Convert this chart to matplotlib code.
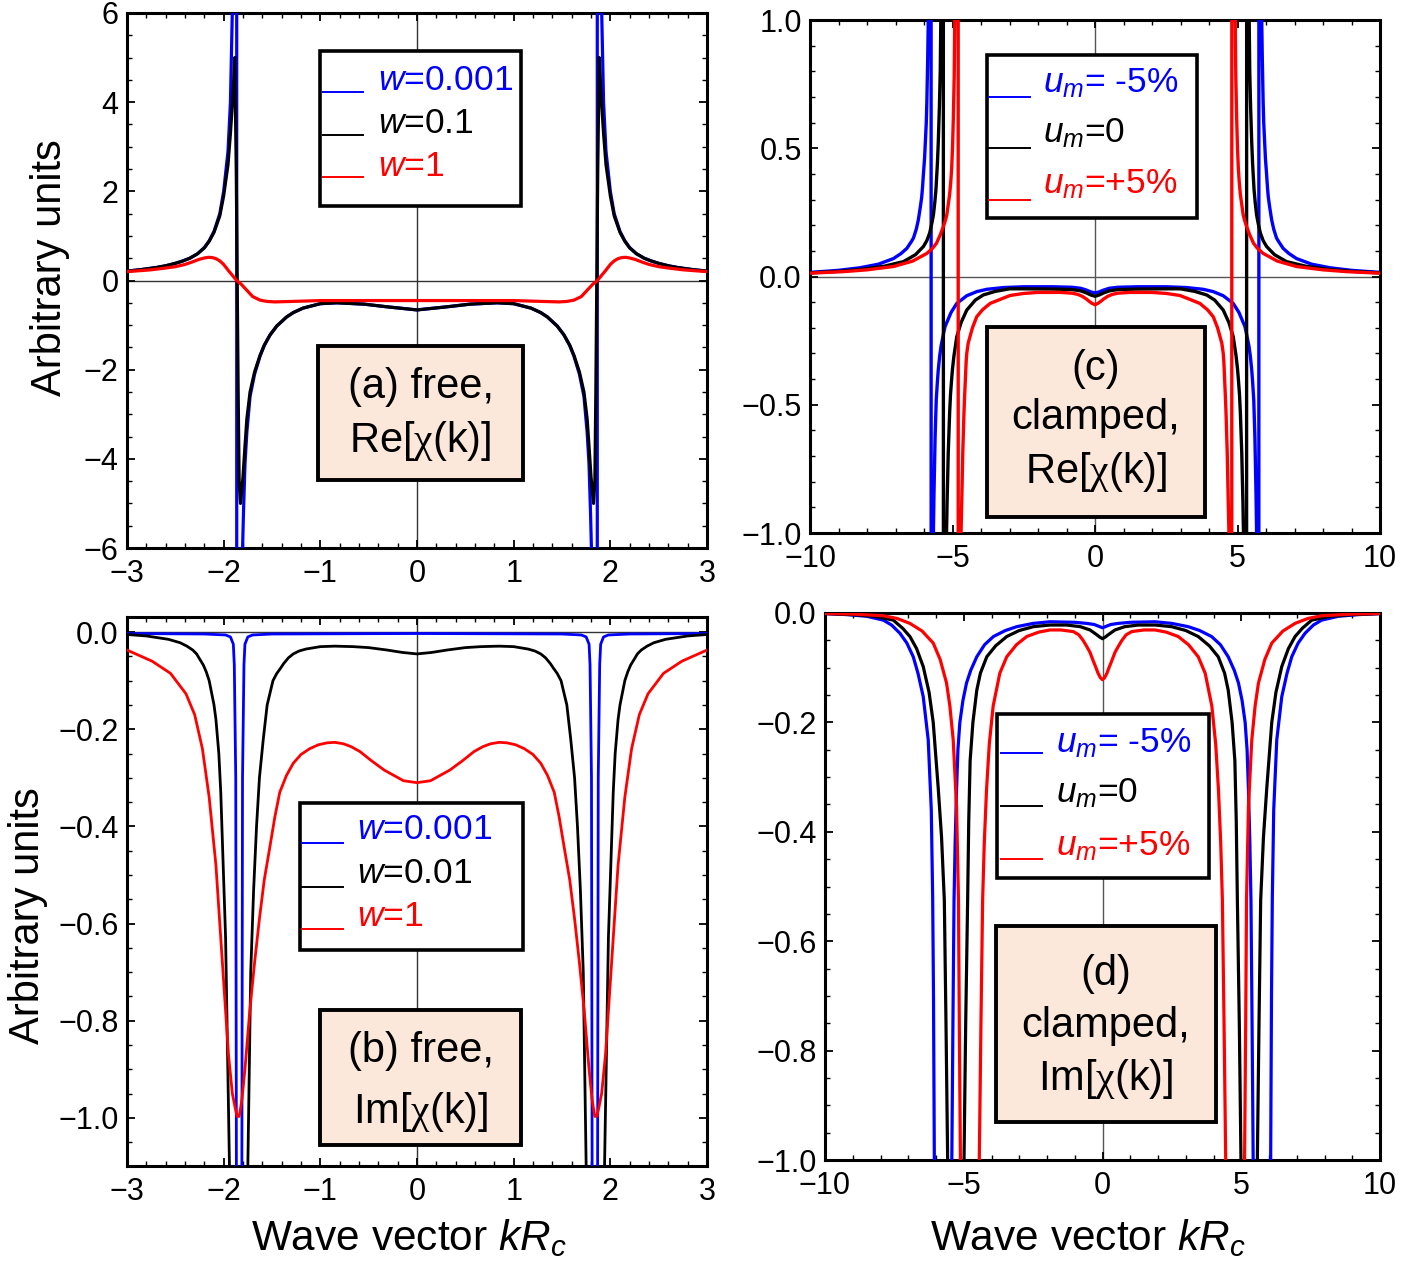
import numpy as np
import matplotlib
matplotlib.use('Agg')
import matplotlib.pyplot as plt
from matplotlib.patches import Rectangle
from matplotlib.lines import Line2D
from matplotlib.ticker import MultipleLocator

plt.rcParams['font.family'] = ['Liberation Sans', 'DejaVu Sans']
plt.rcParams['mathtext.fontset'] = 'custom'
plt.rcParams['mathtext.rm'] = 'Liberation Sans'
plt.rcParams['mathtext.it'] = 'Liberation Sans:italic'
plt.rcParams['mathtext.bf'] = 'Liberation Sans:bold'
plt.rcParams['mathtext.sf'] = 'Liberation Serif'  # used only for the chi glyph

# all curves are even in k, so only the k >= 0 half is listed and mirrored below

# (a) free, Re[chi(k)]
a_k_blue = [0, 0.31, 0.55, 0.83, 1.0, 1.18, 1.28, 1.35, 1.45, 1.52, 1.58, 1.624, 1.68, 1.727,
            1.76, 1.779, 1.795, 1.81, 1.83, 1.85, 1.864, 1.866, 1.88, 1.895, 1.906, 1.93,
            1.955, 2.0, 2.04, 2.1, 2.15, 2.2, 2.27, 2.35, 2.42, 2.5, 2.6, 2.7, 2.85, 3.0]
a_re_blue = [-0.66, -0.59, -0.53, -0.50, -0.52, -0.62, -0.72, -0.82, -1.02, -1.22, -1.46, -1.70,
             -2.1, -2.6, -3.4, -4.1, -5.2, -6.5, -10, -25, -200, 200, 25, 10, 6.5, 4.0,
             2.9, 2.0, 1.5, 1.1, 0.89, 0.74, 0.6, 0.5, 0.44, 0.385, 0.33, 0.29, 0.245, 0.21]
a_k_black = [0, 0.31, 0.55, 0.83, 1.0, 1.18, 1.28, 1.35, 1.45, 1.52, 1.58, 1.624, 1.68, 1.727,
             1.76, 1.779, 1.80, 1.826, 1.84, 1.85, 1.86, 1.87, 1.885, 1.903, 1.93, 1.955,
             2.0, 2.04, 2.1, 2.15, 2.2, 2.27, 2.35, 2.42, 2.5, 2.6, 2.7, 2.85, 3.0]
a_re_black = [-0.66, -0.59, -0.53, -0.50, -0.52, -0.62, -0.72, -0.82, -1.02, -1.22, -1.45, -1.68,
              -2.05, -2.5, -3.1, -3.7, -4.4, -5.0, -4.5, -2.5, 0.0, 2.5, 5.0, 4.2, 3.3, 2.6,
              1.9, 1.45, 1.08, 0.88, 0.73, 0.6, 0.5, 0.44, 0.385, 0.33, 0.29, 0.245, 0.21]
a_k_red = [0, 0.5, 1.0, 1.3, 1.47, 1.55, 1.624, 1.7, 1.76, 1.82, 1.866, 1.90, 1.95, 2.0, 2.04,
           2.08, 2.12, 2.16, 2.2, 2.26, 2.32, 2.4, 2.5, 2.6, 2.75, 2.9, 3.0]
a_re_red = [-0.45, -0.45, -0.45, -0.47, -0.48, -0.47, -0.44, -0.36, -0.22, -0.08, 0.0, 0.09,
            0.22, 0.36, 0.44, 0.49, 0.515, 0.52, 0.505, 0.47, 0.42, 0.36, 0.31, 0.28, 0.24,
            0.215, 0.2]

# (b) free, Im[chi(k)]
b_k_blue = [0, 1.5, 1.7, 1.75, 1.78, 1.79, 1.805, 1.815, 1.865, 1.875, 1.89, 1.9, 1.93,
            1.98, 2.2, 3.0]
b_im_blue = [-0.003, -0.004, -0.006, -0.01, -0.025, -0.067, -0.3, -1.5, -1.5, -0.3, -0.067,
             -0.025, -0.01, -0.006, -0.004, -0.003]
b_k_black = [0, 0.15, 0.31, 0.5, 0.66, 0.85, 1.0, 1.15, 1.22, 1.28, 1.33, 1.38, 1.41, 1.45,
             1.49, 1.55, 1.59, 1.63, 1.66, 1.69, 1.72, 1.75, 1.845, 1.94, 1.98, 2.03, 2.05,
             2.08, 2.1, 2.13, 2.15, 2.18, 2.21, 2.25, 2.28, 2.32, 2.38, 2.45, 2.57, 2.8, 3.0]
b_im_black = [-0.045, -0.042, -0.037, -0.032, -0.030, -0.029, -0.030, -0.035, -0.039, -0.045,
              -0.053, -0.065, -0.074, -0.085, -0.10, -0.15, -0.22, -0.30, -0.40, -0.53, -0.70,
              -1.1, -3.0, -1.1, -0.63, -0.33, -0.25, -0.18, -0.15, -0.12, -0.10, -0.082,
              -0.068, -0.055, -0.045, -0.037, -0.029, -0.022, -0.015, -0.008, -0.005]
b_k_red = [0, 0.14, 0.34, 0.47, 0.59, 0.68, 0.76, 0.85, 0.93, 1.02, 1.11, 1.2, 1.28, 1.35,
           1.42, 1.47, 1.52, 1.58, 1.63, 1.68, 1.73, 1.78, 1.795, 1.81, 1.825, 1.84, 1.86,
           1.88, 1.895, 1.91, 1.95, 1.98, 2.03, 2.08, 2.15, 2.22, 2.3, 2.39, 2.55, 2.74, 3.0]
b_im_red = [-0.31, -0.306, -0.284, -0.265, -0.246, -0.236, -0.23, -0.227, -0.228, -0.232,
            -0.24, -0.252, -0.27, -0.295, -0.33, -0.38, -0.44, -0.51, -0.59, -0.68, -0.78,
            -0.9, -0.93, -0.96, -0.98, -0.997, -0.997, -0.98, -0.965, -0.95, -0.87, -0.78,
            -0.63, -0.48, -0.34, -0.24, -0.17, -0.127, -0.085, -0.06, -0.037]

# (c) clamped, Re[chi(k)]
c_k_blue = [0, 0.15, 0.3, 0.5, 0.8, 1.5, 2.5, 3.2, 3.8, 4.15, 4.5, 4.85, 5.05, 5.26, 5.3,
            5.4, 5.45, 5.5, 5.53, 5.57, 5.61, 5.65, 5.67, 5.71, 5.745, 5.755, 5.79, 5.83,
            5.85, 5.87, 5.9, 5.92, 5.95, 5.98, 6.02, 6.05, 6.08, 6.13, 6.2, 6.27, 6.37, 6.45,
            6.6, 6.8, 7.07, 7.6, 8.25, 9.0, 10.0]
c_re_blue = [-0.064, -0.06, -0.053, -0.046, -0.042, -0.040, -0.040, -0.043, -0.05, -0.059,
             -0.075, -0.105, -0.14, -0.195, -0.215, -0.27, -0.31, -0.365, -0.41, -0.48, -0.625,
             -0.85, -1.0, -2.0, -10, 10, 2.0, 1.2, 1.0, 0.85, 0.68, 0.6, 0.53, 0.46, 0.4,
             0.35, 0.31, 0.27, 0.22, 0.185, 0.15, 0.135, 0.11, 0.09, 0.07, 0.048, 0.034,
             0.024, 0.016]
c_k_black = [0, 0.15, 0.3, 0.5, 0.8, 1.5, 2.5, 3.0, 3.5, 3.92, 4.2, 4.5, 4.7, 4.85, 4.95, 5.0,
             5.03, 5.07, 5.1, 5.15, 5.19, 5.21, 5.26, 5.315, 5.325, 5.37, 5.41, 5.43, 5.46,
             5.5, 5.53, 5.58, 5.62, 5.67, 5.72, 5.8, 5.9, 6.02, 6.3, 6.72, 7.4, 8.25, 9.0,
             10.0]
c_re_black = [-0.077, -0.072, -0.064, -0.056, -0.051, -0.049, -0.048, -0.048, -0.058, -0.072,
              -0.092, -0.131, -0.18, -0.235, -0.31, -0.36, -0.40, -0.46, -0.53, -0.69, -0.88,
              -1.0, -2.0, -10, 10, 2.0, 1.0, 0.8, 0.66, 0.52, 0.44, 0.34, 0.29, 0.24, 0.21,
              0.17, 0.14, 0.117, 0.085, 0.058, 0.04, 0.027, 0.02, 0.014]
c_k_red = [0, 0.1, 0.2, 0.3, 0.45, 0.6, 0.8, 1.2, 2.0, 2.5, 2.98, 3.3, 3.68, 3.95, 4.15, 4.3,
           4.45, 4.5, 4.52, 4.56, 4.58, 4.6, 4.64, 4.67, 4.70, 4.75, 4.795, 4.805, 4.86, 4.92,
           4.94, 4.97, 5.0, 5.03, 5.06, 5.1, 5.15, 5.2, 5.26, 5.32, 5.42, 5.56, 5.7, 5.9, 6.4,
           7.07, 8.0, 8.83, 10.0]
c_re_red = [-0.11, -0.105, -0.097, -0.088, -0.077, -0.07, -0.065, -0.062, -0.062, -0.066,
            -0.074, -0.088, -0.105, -0.13, -0.157, -0.2, -0.26, -0.3, -0.33, -0.43, -0.48,
            -0.54, -0.69, -0.85, -1.0, -2.0, -10, 10, 2.0, 1.0, 0.78, 0.62, 0.5, 0.42, 0.37,
            0.32, 0.28, 0.24, 0.215, 0.195, 0.165, 0.13, 0.11, 0.09, 0.06, 0.039, 0.026,
            0.019, 0.013]

# (d) clamped, Im[chi(k)]
d_k_blue = [0, 0.15, 0.3, 0.57, 1.0, 1.89, 2.5, 3.09, 3.5, 3.93, 4.25, 4.53, 4.75, 4.9, 5.03,
            5.14, 5.21, 5.26, 5.31, 5.35, 5.39, 5.43, 5.75, 6.06, 6.09, 6.12, 6.17, 6.28, 6.46,
            6.65, 6.82, 7.05, 7.3, 7.6, 7.9, 8.5, 9.2, 10.0]
d_im_blue = [-0.027, -0.024, -0.021, -0.019, -0.017, -0.016, -0.019, -0.025, -0.032, -0.043,
             -0.058, -0.08, -0.105, -0.128, -0.16, -0.2, -0.25, -0.324, -0.42, -0.525, -0.75,
             -1.0, -2.5, -1.0, -0.7, -0.52, -0.36, -0.232, -0.153, -0.11, -0.08, -0.055,
             -0.037, -0.022, -0.013, -0.006, -0.003, -0.001]
d_k_black = [0, 0.1, 0.2, 0.45, 0.8, 1.29, 1.9, 2.49, 3.0, 3.45, 3.85, 4.17, 4.4, 4.53, 4.67,
             4.77, 4.82, 4.86, 4.93, 4.99, 5.28, 5.58, 5.64, 5.70, 5.8, 5.92, 6.1, 6.25, 6.46,
             6.7, 6.94, 7.2, 7.54, 8.2, 9.0, 10.0]
d_im_black = [-0.047, -0.044, -0.04, -0.031, -0.025, -0.022, -0.022, -0.025, -0.032, -0.043,
              -0.06, -0.08, -0.11, -0.141, -0.2, -0.27, -0.38, -0.525, -0.75, -1.0, -2.5,
              -1.0, -0.75, -0.525, -0.41, -0.32, -0.2, -0.145, -0.098, -0.065, -0.043, -0.028,
              -0.013, -0.006, -0.003, -0.001]
d_k_red = [0, 0.08, 0.16, 0.25, 0.33, 0.45, 0.57, 0.7, 0.85, 1.05, 1.5, 1.89, 2.3, 2.73, 3.1,
           3.45, 3.7, 3.94, 4.08, 4.18, 4.26, 4.32, 4.38, 4.44, 4.78, 5.12, 5.16, 5.19, 5.26,
           5.38, 5.5, 5.62, 5.85, 6.1, 6.5, 6.94, 7.4, 7.9, 9.0, 10.0]
d_im_red = [-0.122, -0.118, -0.11, -0.098, -0.088, -0.072, -0.061, -0.05, -0.04, -0.034, -0.031,
            -0.031, -0.035, -0.043, -0.058, -0.08, -0.11, -0.17, -0.24, -0.324, -0.42, -0.525,
            -0.75, -1.0, -2.5, -1.0, -0.75, -0.525, -0.353, -0.232, -0.17, -0.128, -0.085,
            -0.055, -0.033, -0.019, -0.01, -0.005, -0.002, -0.001]

free_labels = [r'$w$=0.001', r'$w$=0.1', r'$w$=1']
free_labels_b = [r'$w$=0.001', r'$w$=0.01', r'$w$=1']
clamped_labels = [r'$u_m$= -5%', r'$u_m$=0', r'$u_m$=+5%']
colors = ['#0000ff', 'black', '#ff0000']
CHI = r'$\mathsf{\chi}$'

W, H = 1404, 1271
fig = plt.figure(figsize=(W / 100, H / 100), dpi=100)


def mirror(kh, yh):
    kh = np.asarray(kh, float)
    yh = np.asarray(yh, float)
    return np.concatenate([-kh[::-1], kh[1:]]), np.concatenate([yh[::-1], yh[1:]])


def fx(x):
    return x / W


def fy(y):
    return 1 - y / H


def px_axes(l, t, r, b):
    return fig.add_axes([fx(l), fy(b), (r - l) / W, (b - t) / H])


def fmt(v, f):
    v = round(v, 6) + 0.0
    return f.format(v).replace('-', '\u2212')


def style_axes(ax, xlim, ylim, xticks, xmin, ymaj, ymin, yfmt):
    ax.set_xlim(*xlim)
    ax.set_ylim(*ylim)
    ax.set_xticks(xticks)
    ax.set_xticklabels([fmt(v, '{:g}') for v in xticks])
    ax.xaxis.set_minor_locator(MultipleLocator(xmin))
    yt = np.round(np.arange(ymaj[0], ymaj[1] + 1e-9, ymaj[2]), 6)
    ax.set_yticks(yt)
    ax.set_yticklabels([fmt(v, yfmt) for v in yt])
    ax.yaxis.set_minor_locator(MultipleLocator(ymin))
    ax.tick_params(which='both', direction='in', top=True, right=True, labelsize=22)
    ax.tick_params(which='major', length=6, width=1.3)
    ax.tick_params(which='minor', length=3.5, width=1.0)
    ax.tick_params(axis='x', pad=8)
    ax.tick_params(axis='y', pad=6)
    for s in ax.spines.values():
        s.set_linewidth(2.2)


def legend_box(box, labels, text_x, baselines, line_x, line_ys, fs=25.5):
    l, t, r, b = box
    fig.add_artist(Rectangle((fx(l), fy(b)), (r - l) / W, (b - t) / H,
                             transform=fig.transFigure, facecolor='white',
                             edgecolor='black', lw=2.6, zorder=10))
    for lab, c, yb, yl in zip(labels, colors, baselines, line_ys):
        fig.add_artist(Line2D([fx(line_x[0]), fx(line_x[1])], [fy(yl), fy(yl)],
                              transform=fig.transFigure, color=c, lw=1.4, zorder=11))
        fig.text(fx(text_x), fy(yb), lab, color=c, fontsize=fs, ha='left',
                 va='baseline', zorder=12)


def label_box(box, lines, baselines, fs=30):
    l, t, r, b = box
    fig.add_artist(Rectangle((fx(l), fy(b)), (r - l) / W, (b - t) / H,
                             transform=fig.transFigure, facecolor='#fce8da',
                             edgecolor='black', lw=2.8, zorder=10))
    xc = (l + r) / 2
    for s, yb in zip(lines, baselines):
        fig.text(fx(xc), fy(yb), s, fontsize=fs, ha='center', va='baseline', zorder=12)


def draw_panel(ax, series, lw):
    for (kh, yh), c in zip(series, colors):
        k, y = mirror(kh, yh)
        ax.plot(k, y, color=c, lw=lw, zorder=3)


# ---- (a) ----
ax = px_axes(127, 13, 707, 548)
ax.axhline(0, color='#333333', lw=1.0, zorder=1)
ax.axvline(0, color='#333333', lw=1.0, zorder=1)
draw_panel(ax, [(a_k_blue, a_re_blue), (a_k_black, a_re_black), (a_k_red, a_re_red)], 2.3)
style_axes(ax, (-3, 3), (-6, 6), [-3, -2, -1, 0, 1, 2, 3], 0.2, (-6, 6, 2), 0.5, '{:g}')

# ---- (b) ----
ax = px_axes(127, 617, 707, 1166)
ax.axhline(0, color='#333333', lw=1.0, zorder=1)
ax.axvline(0, color='#333333', lw=1.0, zorder=1)
draw_panel(ax, [(b_k_blue, b_im_blue), (b_k_black, b_im_black), (b_k_red, b_im_red)], 2.0)
style_axes(ax, (-3, 3), (-1.099, 0.031), [-3, -2, -1, 0, 1, 2, 3], 0.2, (-1.0, 0.0, 0.2),
           0.05, '{:.1f}')

# ---- (c) ----
ax = px_axes(810, 20, 1380, 533)
ax.axhline(0, color='#555555', lw=1.0, zorder=1)
ax.axvline(0, color='#555555', lw=1.0, zorder=1)
draw_panel(ax, [(c_k_blue, c_re_blue), (c_k_black, c_re_black), (c_k_red, c_re_red)], 2.4)
style_axes(ax, (-10, 10), (-1, 1), [-10, -5, 0, 5, 10], 1, (-1.0, 1.0, 0.5), 0.1, '{:.1f}')

# ---- (d) ----
ax = px_axes(825, 613, 1380, 1160)
ax.axvline(0, color='#555555', lw=1.0, zorder=1)
draw_panel(ax, [(d_k_blue, d_im_blue), (d_k_black, d_im_black), (d_k_red, d_im_red)], 2.3)
style_axes(ax, (-10, 10), (-1, 0), [-10, -5, 0, 5, 10], 1, (-1.0, 0.0, 0.2), 0.05, '{:.1f}')

# legends and panel labels
legend_box((320, 51, 521, 206), free_labels, 378, [90, 133, 176], (323, 363), [92, 135, 177])
legend_box((300, 803, 523, 950), free_labels_b, 357, [839, 883, 926], (302, 343), [843, 887, 929])
legend_box((987, 55, 1197, 218), clamped_labels, 1043, [92, 142, 193], (989, 1030), [97, 148, 200])
legend_box((997, 714, 1209, 878), clamped_labels, 1056, [752, 802, 855], (1001, 1042), [753, 806, 859])

label_box((318, 346, 523, 480), ['(a) free,', 'Re[' + CHI + '(k)]'], [398, 452])
label_box((320, 1010, 521, 1145), ['(b) free,', 'Im[' + CHI + '(k)]'], [1062, 1123])
label_box((987, 327, 1205, 517), ['(c)', 'clamped,', 'Re[' + CHI + '(k)]'], [380, 429, 483])
label_box((996, 926, 1216, 1122), ['(d)', 'clamped,', 'Im[' + CHI + '(k)]'], [985, 1037, 1090])

fig.text(fx(50), fy(268), 'Arbitrary units', rotation=90, fontsize=30, ha='center', va='center')
fig.text(fx(28), fy(916), 'Arbitrary units', rotation=90, fontsize=30, ha='center', va='center')
fig.text(fx(409), fy(1238), r'Wave vector $kR_c$', fontsize=30.5, ha='center', va='center')
fig.text(fx(1088), fy(1238), r'Wave vector $kR_c$', fontsize=30.5, ha='center', va='center')

fig.savefig('out.png', dpi=100)
